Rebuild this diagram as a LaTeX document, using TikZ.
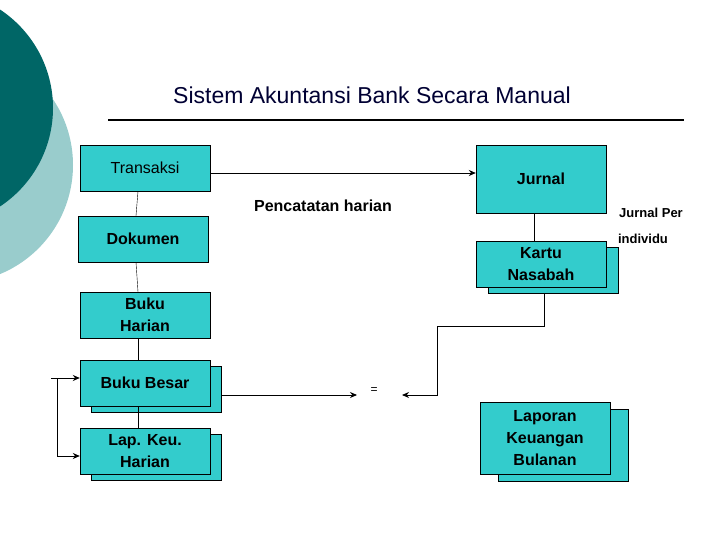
\documentclass[tikz,border=0pt]{standalone}
\usepackage{fontspec}
\setmainfont{Liberation Sans}
\usetikzlibrary{arrows.meta}
\definecolor{boxcyan}{RGB}{51,204,204}
\definecolor{darkteal}{RGB}{0,102,102}
\definecolor{lightteal}{RGB}{153,204,204}
\definecolor{titleblue}{RGB}{0,0,51}
\begin{document}
\begin{tikzpicture}[x=1pt,y=-1pt,>={Stealth[length=7pt,width=6pt]}]
                \tikzstyle{box}=[draw=black,fill=boxcyan,minimum width=130pt,minimum height=46pt,inner sep=0pt,align=center,font=\fontsize{16}{22}\selectfont\bfseries]
                \tikzstyle{shadowbox}=[draw=black,fill=boxcyan,minimum width=130pt,minimum height=46pt,inner sep=0pt]
                \useasboundingbox (0,0) rectangle (720,540);
                % decoration
                \fill[lightteal] (-45,165) circle (118);
                \fill[darkteal] (-65,108) circle (118);
                \node[font=\fontsize{23}{26}\selectfont,text=titleblue] (title) at (372,95) {Sistem Akuntansi Bank Secara Manual};
                \draw[line width=1.2pt] (108,120) -- (684,120);
                % shadows
                \foreach \name/\x/\y/\h in {bb/156/389/46, lk/156/457/46, kn/553/270/46, lb/563/445/72}
                        \node[shadowbox,minimum height=\h pt] (S-\name) at (\x,\y) {};
                \foreach \name/\x/\y/\h/\txt in {tr/145/168/46/{\mdseries Transaksi}, dk/143/239/46/Dokumen, bh/145/315/46/{Buku\\Harian}, bb/145/383/46/{Buku Besar}, lk/145/451/46/{Lap. Keu.\\Harian}, jr/541/179/68/Jurnal, kn/541/264/46/{Kartu\\Nasabah}, lb/545/438/72/{Laporan\\Keuangan\\Bulanan}}
                        \node[box,minimum height=\h pt] (V-\name) at (\x,\y) {\txt};
                \node[font=\fontsize{16}{18}\selectfont\bfseries] (lbl-p) at (323,206) {Pencatatan harian};
                \node[font=\fontsize{13}{15}\selectfont\bfseries] (lbl-j) at (651,213) {Jurnal Per};
                \node[font=\fontsize{13}{15}\selectfont\bfseries] (lbl-i) at (643,239) {individu};
                \node[font=\fontsize{12}{14}\selectfont] (eq) at (374,391) {=};
                % connectors
                \draw[->,line width=0.9pt] (V-tr.east |- 0,173) -- (V-jr.west |- 0,173);
                \foreach \from/\to in {tr/dk, dk/bh, bh/bb, bb/lk}
                        \draw ([xshift=-7pt]V-\from.south) -- ([xshift=-7pt]V-\to.north);
                \draw (V-jr.south -| 534,0) -- (V-kn.north -| 534,0);
                \coordinate (L-a) at (51,378);
                \coordinate (L-b) at (57,456);
                \draw[->,line width=0.9pt] (L-a) -- (V-bb.west |- L-a);
                \draw[->,line width=0.9pt] (57,378) -- (L-b) -- (V-lk.west |- L-b);
                \draw[->,line width=0.9pt] (S-bb.east |- 0,395) -- (357,395);
                \draw[->,line width=0.9pt] (S-kn.south -| 544,0) -- (544,326) -- (437,326) -- (437,395) -- (402,395);
\end{tikzpicture}
\end{document}
